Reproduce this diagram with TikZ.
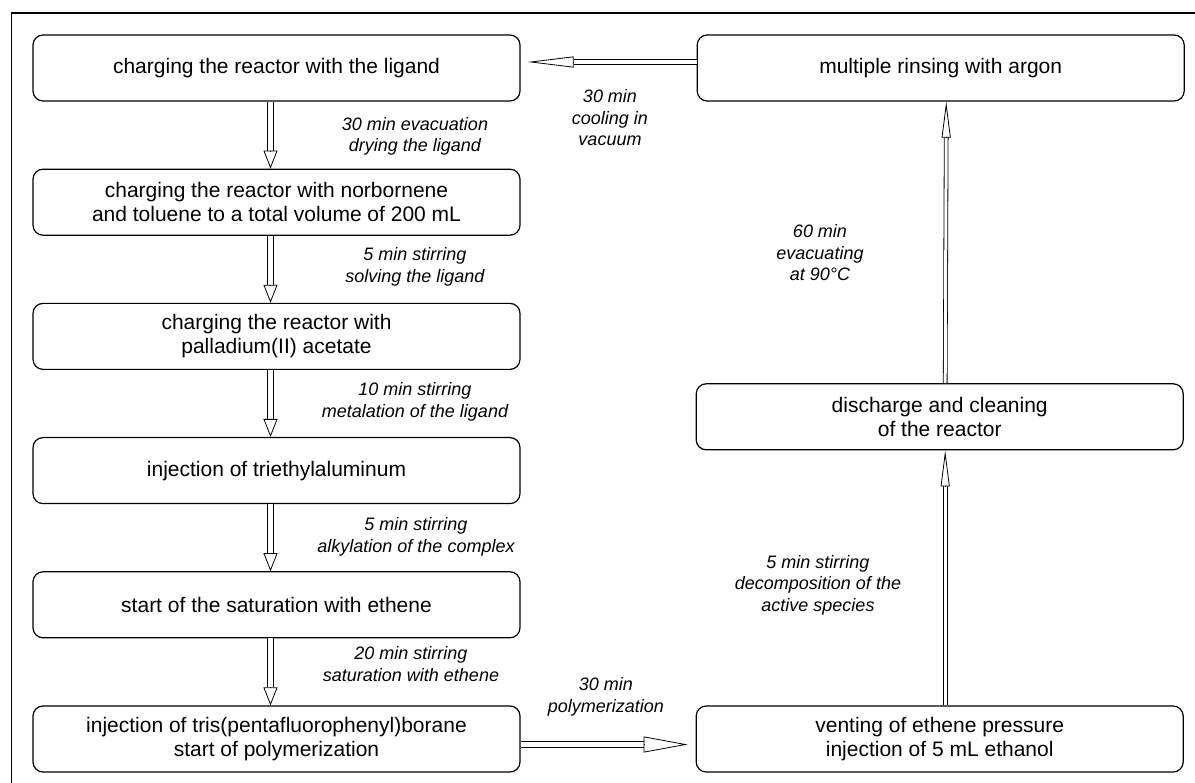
\documentclass[tikz,border=0pt]{standalone}
\usepackage{fontspec}
\setmainfont{Liberation Sans}
\usetikzlibrary{arrows.meta,positioning}

\begin{document}
\begin{tikzpicture}[x=1pt,y=-1pt,node distance=67pt,
	stage box/.style={draw,rounded corners=10pt,line width=1.2pt,
		minimum width=487pt,minimum height=66pt,inner sep=0pt,align=center,
		font=\fontsize{21}{24}\selectfont},
	note/.style={align=center,font=\fontsize{18}{21.5}\selectfont\itshape},
	shaft/.style={double,double distance=4.5pt,line width=0.8pt},
	thin shaft/.style={double,double distance=3pt,line width=0.8pt},
	head/.style={line width=0.8pt,-{Triangle[open,length=18pt,width=14pt]}}]
	
	\useasboundingbox (0,0) rectangle (1195,783);
	\draw[line width=1.2pt] (11.5,13) rectangle (1220,810);
	
	% left column
	\node[stage box] (charge) at (276.5,68) {charging the reactor with the ligand};
	\node[stage box] (norb) [below=of charge] {charging the reactor with norbornene\\and toluene to a total volume of 200 mL};
	\node[stage box] (pall) [below=of norb] {charging the reactor with\\palladium(II) acetate};
	\node[stage box] (teal) [below=of pall] {injection of triethylaluminum};
	\node[stage box] (sat) [below=of teal] {start of the saturation with ethene};
	\node[stage box] (borane) [below=of sat] {injection of tris(pentafluorophenyl)borane\\start of polymerization};
	
	% right column
	\node[stage box] (vent) [right=175pt of borane] {venting of ethene pressure\\injection of 5 mL ethanol};
	\node[stage box] (clean) [above=255pt of vent] {discharge and cleaning\\of the reactor};
	\node[stage box] (rinse) [right=176pt of charge] {multiple rinsing with argon};
	
	% downward steps
	\foreach \a/\b in {charge/norb,norb/pall,pall/teal,teal/sat,sat/borane}{
		\draw[shaft] ([xshift=-6pt]\a.south) -- ([xshift=-6pt,yshift=18pt]\b.north);
		\draw[head] ([xshift=-6pt,yshift=18pt]\b.north) -- ([xshift=-6pt]\b.north);
	}
	
	% across and up
	\draw[shaft] ([yshift=-5.5pt]borane.east) -- ([xshift=-52pt,yshift=-5.5pt]vent.west);
	\draw[head,-{Triangle[open,length=44pt,width=16pt]}] ([xshift=-52pt,yshift=-5.5pt]vent.west) -- ([xshift=-8pt,yshift=-5.5pt]vent.west);
	\draw[thin shaft] ([xshift=5.5pt]vent.north) -- ([xshift=5.5pt,yshift=-36pt]clean.south);
	\draw[head,-{Triangle[open,length=36pt,width=9pt]}] ([xshift=5.5pt,yshift=-36pt]clean.south) -- ([xshift=5.5pt]clean.south);
	\draw[thin shaft] ([xshift=5.5pt]clean.north) -- ([xshift=5.5pt,yshift=-36pt]rinse.south);
	\draw[head,-{Triangle[open,length=36pt,width=9pt]}] ([xshift=5.5pt,yshift=-36pt]rinse.south) -- ([xshift=5.5pt]rinse.south);
	\draw[shaft,double distance=4pt] ([yshift=6pt]rinse.west) -- ([xshift=53pt,yshift=6pt]charge.east);
	\draw[head,-{Triangle[open,length=46pt,width=11pt]}] ([xshift=53pt,yshift=6pt]charge.east) -- ([xshift=7pt,yshift=6pt]charge.east);
	
	% conditions
	\node[note] (n1) at (415,136.5) {30 min evacuation\\drying the ligand};
	\node[note] (n2) at (415,267) {5 min stirring\\solving the ligand};
	\node[note] (n3) at (415,402) {10 min stirring\\metalation of the ligand};
	\node[note] (n4) at (416,537) {5 min stirring\\alkylation of the complex};
	\node[note] (n5) at (411,664) {20 min stirring\\saturation with ethene};
	\node[note] (n6) at (606,697) {30 min\\polymerization};
	\node[note] (n7) at (818,585) {5 min stirring\\decomposition of the\\active species};
	\node[note] (n8) at (820,253) {60 min\\evacuating\\at 90°C};
	\node[note] (n9) at (610,118) {30 min\\cooling in\\vacuum};
\end{tikzpicture}
\end{document}
